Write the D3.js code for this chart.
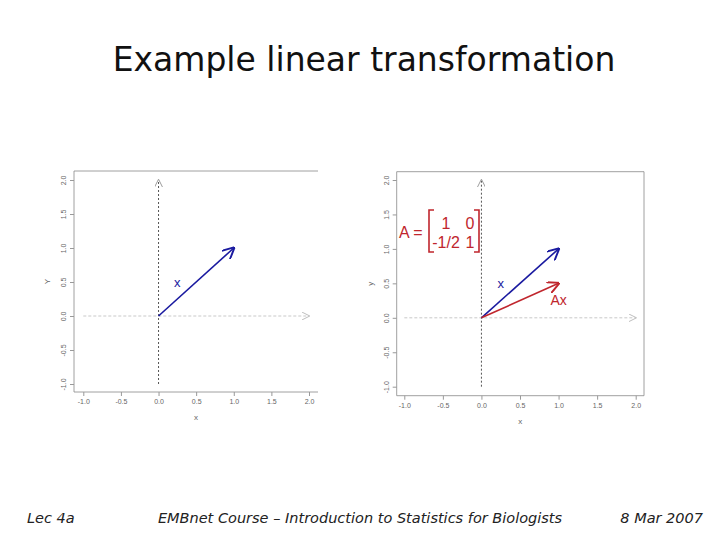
<!DOCTYPE html><html><head><meta charset="utf-8">
<script src="https://cdn.jsdelivr.net/npm/d3@7"></script>
<style>body{margin:0;background:#fff}</style></head><body>
<script>
const xTicks=[-1.0,-0.5,0.0,0.5,1.0,1.5,2.0];
const yTicks=[-1.0,-0.5,0.0,0.5,1.0,1.5,2.0];
const vecX=[1,1];
const vecAx=[1,0.5];
const matrixRows=[["1","0"],["-1/2","1"]];
const fmt=d=>d.toFixed(1);
const svg=d3.select("body").append("svg").attr("width",720).attr("height",540);
svg.append("text").attr("x",364).attr("y",71).attr("text-anchor","middle")
 .attr("font-family","DejaVu Sans").attr("font-size",33).attr("fill","#111").text("Example linear transformation");
const ft=[["Lec 4a",27,"start"],["EMBnet Course – Introduction to Statistics for Biologists",360,"middle"],["8 Mar 2007",703,"end"]];
ft.forEach(f=>svg.append("text").attr("x",f[1]).attr("y",523).attr("text-anchor",f[2]).attr("font-family","DejaVu Sans")
 .attr("font-style","italic").attr("font-size",14.5).attr("fill","#222").text(f[0]));
const defs=svg.append("defs");
function marker(id,col,w,sw){defs.append("marker").attr("id",id).attr("viewBox","0 0 10 10").attr("refX",9).attr("refY",5)
 .attr("markerWidth",w).attr("markerHeight",w).attr("markerUnits","userSpaceOnUse").attr("orient","auto")
 .append("path").attr("d","M0,0 L10,5 L0,10").attr("fill","none").attr("stroke",col).attr("stroke-width",sw);}
marker("mb","#1a1aa0",12,1.6);marker("mr","#c0262d",12,1.6);marker("mg","#bbb",8,1.2);marker("mk","#999",8,1.2);
function panel(p){
 const x=d3.scaleLinear().domain([-1,2]).range([p.x0,p.x2]);
 const y=d3.scaleLinear().domain([-1,2]).range([p.y0,p.y2]);
 const g=svg.append("g");
 const fr=p.frame;
 g.append("path").attr("d",p.full?`M${fr[0]},${fr[1]}H${fr[2]}V${fr[3]}H${fr[0]}Z`:`M${fr[2]},${fr[1]}H${fr[0]}V${fr[3]}H${fr[2]}`)
  .attr("fill","none").attr("stroke","#888").attr("stroke-width",0.8);
 const xa=g.append("g").attr("transform",`translate(0,${fr[3]})`).call(d3.axisBottom(x).tickValues(xTicks).tickFormat(fmt).tickSize(4));
 const ya=g.append("g").attr("transform",`translate(${fr[0]},0)`).call(d3.axisLeft(y).tickValues(yTicks).tickFormat(fmt).tickSize(4));
 [xa,ya].forEach(a=>{a.select(".domain").remove();a.selectAll("line").attr("stroke","#999");
  a.selectAll("text").attr("fill","#666").attr("font-size",7).attr("font-family","Liberation Sans");});
 ya.selectAll("text").attr("transform","rotate(-90)").attr("text-anchor","middle").attr("x",0).attr("dy",0).attr("y",-8);
 g.append("text").attr("x",(fr[0]+fr[2])/2).attr("y",fr[3]+28).attr("text-anchor","middle").attr("font-size",8).attr("fill","#666").attr("font-family","Liberation Sans").text("x");
 g.append("text").attr("transform",`translate(${fr[0]-24},${(fr[1]+fr[3])/2}) rotate(-90)`).attr("text-anchor","middle").attr("font-size",8).attr("fill","#666").attr("font-family","Liberation Sans").text(p.yl);
 g.append("line").attr("x1",x(-1)).attr("x2",x(2)).attr("y1",y(0)).attr("y2",y(0)).attr("stroke","#bbb").attr("stroke-dasharray","3,2").attr("stroke-width",0.8).attr("marker-end","url(#mg)");
 g.append("line").attr("x1",x(0)).attr("x2",x(0)).attr("y1",y(-1)).attr("y2",y(2)).attr("stroke","#555").attr("stroke-dasharray","2,2").attr("stroke-width",1).attr("marker-end","url(#mk)");
 g.append("line").attr("x1",x(0)).attr("y1",y(0)).attr("x2",x(vecX[0])).attr("y2",y(vecX[1])).attr("stroke","#1a1aa0").attr("stroke-width",1.6).attr("marker-end","url(#mb)");
 g.append("text").attr("x",x(0.25)).attr("y",y(0.43)).attr("text-anchor","middle").attr("fill","#1a1aa0").attr("font-family","Liberation Sans").attr("font-size",13).text("x");
 if(p.ax){
  g.append("line").attr("x1",x(0)).attr("y1",y(0)).attr("x2",x(vecAx[0])).attr("y2",y(vecAx[1])).attr("stroke","#c0262d").attr("stroke-width",1.6).attr("marker-end","url(#mr)");
  g.append("text").attr("x",x(1)).attr("y",y(0.18)).attr("text-anchor","middle").attr("fill","#c0262d").attr("font-family","Liberation Sans").attr("font-size",14).text("Ax");
  const c="#c0262d";
  g.append("text").attr("x",399).attr("y",238).attr("fill",c).attr("font-family","Liberation Sans").attr("font-size",16).text("A =");
  g.append("path").attr("d","M434,210 H429 V252 H434").attr("fill","none").attr("stroke",c).attr("stroke-width",1.6);
  g.append("path").attr("d","M474,210 H479 V252 H474").attr("fill","none").attr("stroke",c).attr("stroke-width",1.6);
  matrixRows.forEach((r,i)=>r.forEach((v,j)=>g.append("text").attr("x",[446,470][j]).attr("y",229+i*19).attr("text-anchor","middle")
   .attr("fill",c).attr("font-family","Liberation Sans").attr("font-size",16).text(v)));
 }
}
panel({x0:83.3,x2:309,y0:384,y2:180,frame:[74,171,318,392],yl:"Y",full:false,ax:false});
panel({x0:404.3,x2:635.7,y0:386.7,y2:180,frame:[396.7,171.7,644,395.7],yl:"y",full:true,ax:true});
</script></body></html>
